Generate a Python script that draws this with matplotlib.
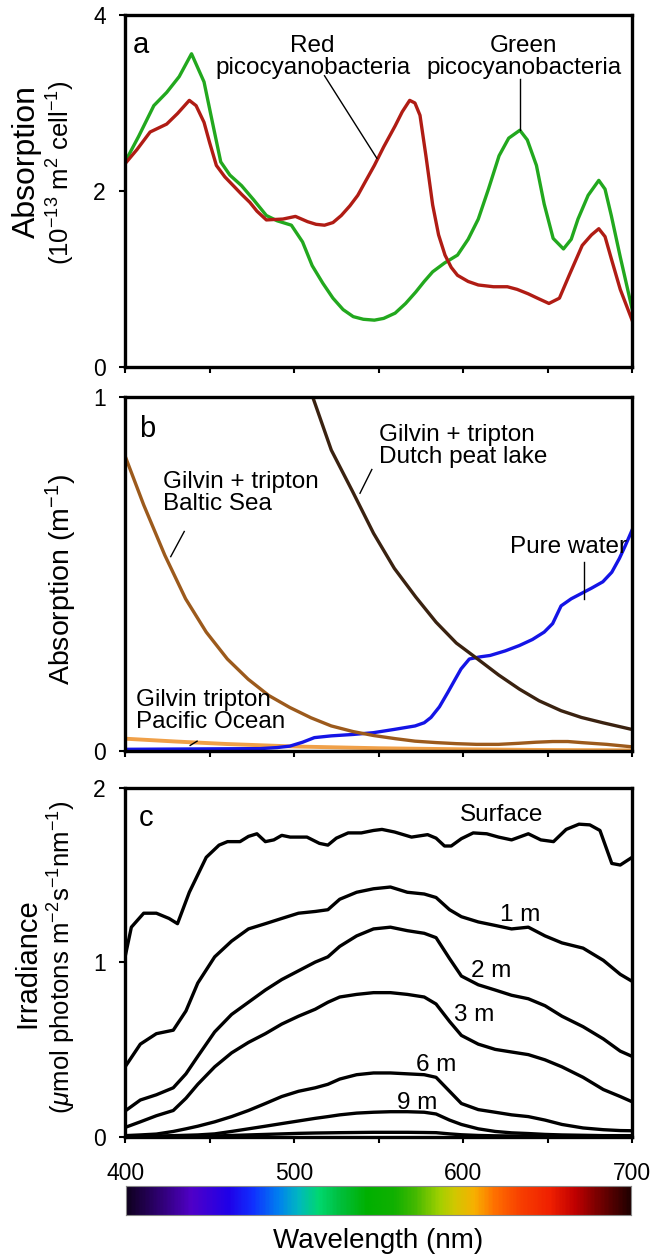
import numpy as np
import matplotlib
matplotlib.use('agg')
from matplotlib import pyplot as plt
from matplotlib.colors import LinearSegmentedColormap

plt.rcParams['font.family'] = ['Liberation Sans', 'DejaVu Sans']
plt.rcParams['mathtext.fontset'] = 'custom'
plt.rcParams['mathtext.rm'] = 'Liberation Sans'
plt.rcParams['mathtext.it'] = 'Liberation Sans:italic'

# panel a: absorption spectra of picocyanobacteria
green_wl = [400, 408, 417, 424.6, 432, 439.3, 446.7, 452, 456.6, 462, 468.9, 476, 483.6,
            490, 498.4, 505, 510.7, 517, 523, 529, 535, 541, 547.5, 553, 559.8, 566, 572,
            577, 582, 589, 596.7, 603, 609, 615, 621.3, 627, 633.6, 638, 643.4, 648, 653.3,
            659.4, 664, 668, 674, 680.3, 684, 687.7, 693, 700]
green_abs = [2.33, 2.62, 2.97, 3.12, 3.30, 3.56, 3.24, 2.75, 2.33, 2.18, 2.06, 1.90, 1.72,
             1.66, 1.61, 1.42, 1.15, 0.95, 0.78, 0.65, 0.57, 0.54, 0.53, 0.55, 0.61, 0.72, 0.85,
             0.97, 1.08, 1.18, 1.27, 1.45, 1.68, 2.02, 2.40, 2.60, 2.69, 2.58, 2.29, 1.85, 1.46,
             1.34, 1.45, 1.68, 1.95, 2.12, 2.02, 1.72, 1.25, 0.66]
red_wl = [400, 407, 414.8, 424.6, 431, 438, 442, 446.7, 450, 454, 459, 464, 469, 473.8,
          478, 483.6, 493.4, 500.8, 508, 513, 518, 523, 527.9, 533, 537.7, 542, 547.5, 553,
          559.8, 564, 568.4, 571.5, 574.5, 578, 582, 585.5, 589.3, 593, 596.7, 603, 609,
          618, 626.2, 632, 638.5, 644, 650.8, 657, 663, 670.5, 676, 680.3, 684, 687.7, 693, 700]
red_abs = [2.31, 2.47, 2.67, 2.76, 2.88, 3.03, 2.97, 2.78, 2.55, 2.29, 2.16, 2.06, 1.96, 1.87,
           1.77, 1.67, 1.68, 1.71, 1.65, 1.62, 1.61, 1.64, 1.72, 1.83, 1.95, 2.10, 2.29, 2.50,
           2.74, 2.90, 3.03, 3.00, 2.86, 2.40, 1.84, 1.50, 1.27, 1.13, 1.04, 0.97, 0.93,
           0.91, 0.91, 0.88, 0.83, 0.78, 0.72, 0.78, 1.05, 1.38, 1.50, 1.57, 1.48, 1.23, 0.88, 0.53]

# panel b: absorption by water constituents
peat_wl = [511, 522, 534.6, 547, 559.3, 572, 584, 596, 608.6, 621, 633.3, 645, 658, 670, 682.7, 700]
peat_abs = [1.0, 0.85, 0.733, 0.615, 0.516, 0.435, 0.364, 0.305, 0.26, 0.215, 0.175, 0.142,
            0.114, 0.095, 0.08, 0.061]
baltic_wl = [400, 411, 423.5, 435.8, 448, 460.5, 472.8, 485, 497.5, 510, 522, 535, 547,
             560, 571.6, 584, 596, 608, 621, 633, 643, 653, 662, 670, 685, 700]
baltic_abs = [0.833, 0.695, 0.553, 0.43, 0.336, 0.26, 0.203, 0.157, 0.123, 0.094, 0.071,
              0.055, 0.044, 0.035, 0.028, 0.024, 0.021, 0.019, 0.019, 0.022, 0.025, 0.027,
              0.027, 0.024, 0.019, 0.012]
pacific_wl = [400, 430, 460, 500, 550, 600, 650, 700]
pacific_abs = [0.035, 0.027, 0.02, 0.013, 0.008, 0.005, 0.003, 0.002]
water_wl = [400, 440, 480, 490, 497.5, 505, 512, 522, 535, 547, 559, 571.6, 577, 581, 586,
            591, 595, 598.8, 603.7, 610, 616, 625, 633.3, 641, 648, 653, 658, 664, 670,
            676, 682.7, 688, 692.5, 696, 700]
water_abs = [0.005, 0.006, 0.007, 0.01, 0.014, 0.025, 0.038, 0.043, 0.047, 0.052, 0.061,
             0.071, 0.08, 0.095, 0.125, 0.166, 0.2, 0.232, 0.26, 0.266, 0.27, 0.283, 0.298,
             0.315, 0.336, 0.36, 0.41, 0.43, 0.445, 0.46, 0.478, 0.505, 0.544, 0.58, 0.624]

# panel c: irradiance spectra at depth
irr_wl = [400, 403.7, 411, 418.5, 426, 431, 438, 448, 455.6, 460.6, 468, 473, 478, 483, 488,
          492.7, 497.7, 507.6, 515, 520, 525, 532, 539.8, 547, 552, 559.5, 569.5, 579, 584,
          589, 593, 599, 606, 614, 621, 628.7, 638.6, 646, 653.5, 661, 668.6, 675, 681,
          688, 693, 700]
surface = [1.03, 1.20, 1.28, 1.28, 1.25, 1.22, 1.40, 1.60, 1.67, 1.69, 1.69, 1.72, 1.735,
           1.69, 1.70, 1.726, 1.716, 1.716, 1.68, 1.67, 1.71, 1.74, 1.74, 1.754, 1.76, 1.745,
           1.716, 1.73, 1.71, 1.665, 1.665, 1.707, 1.74, 1.735, 1.716, 1.70, 1.735, 1.70,
           1.69, 1.76, 1.79, 1.786, 1.754, 1.565, 1.556, 1.60]
depth_wl = [400, 409, 418.5, 428.5, 436, 443, 453, 463, 473, 483, 492.7, 502.6, 512.5, 520,
            527, 537, 547, 557, 567, 577, 584, 592, 599, 609, 619, 628.7, 638.6, 648.5,
            658.5, 671, 683, 693, 700]
irr_1m = [0.40, 0.53, 0.59, 0.61, 0.72, 0.88, 1.03, 1.12, 1.19, 1.22, 1.25, 1.28, 1.29,
          1.30, 1.36, 1.40, 1.42, 1.43, 1.40, 1.39, 1.37, 1.30, 1.26, 1.23, 1.21, 1.19,
          1.20, 1.15, 1.11, 1.08, 1.01, 0.93, 0.89]
irr_2m = [0.147, 0.21, 0.24, 0.28, 0.36, 0.46, 0.60, 0.70, 0.77, 0.84, 0.90, 0.95, 1.00,
          1.03, 1.09, 1.15, 1.19, 1.20, 1.18, 1.165, 1.14, 1.02, 0.92, 0.87, 0.84, 0.81,
          0.79, 0.75, 0.69, 0.63, 0.56, 0.49, 0.46]
irr_3m = [0.053, 0.085, 0.12, 0.15, 0.22, 0.30, 0.40, 0.48, 0.54, 0.59, 0.645, 0.69, 0.73,
          0.77, 0.80, 0.815, 0.825, 0.825, 0.815, 0.80, 0.76, 0.66, 0.58, 0.53, 0.50, 0.485,
          0.47, 0.44, 0.40, 0.34, 0.27, 0.23, 0.20]
irr_6m = [0.006, 0.01, 0.015, 0.03, 0.045, 0.06, 0.085, 0.115, 0.15, 0.19, 0.23, 0.26,
          0.28, 0.30, 0.33, 0.355, 0.365, 0.365, 0.36, 0.355, 0.34, 0.26, 0.19, 0.155, 0.14,
          0.125, 0.115, 0.095, 0.07, 0.05, 0.04, 0.035, 0.034]
irr_9m = [0.0, 0.002, 0.004, 0.006, 0.008, 0.01, 0.016, 0.03, 0.045, 0.06, 0.075, 0.09, 0.105,
          0.115, 0.125, 0.135, 0.14, 0.143, 0.143, 0.14, 0.13, 0.095, 0.07, 0.045, 0.03, 0.022,
          0.018, 0.013, 0.01, 0.008, 0.006, 0.006, 0.006]
irr_12m = [0.0, 0.0, 0.0, 0.0, 0.001, 0.002, 0.004, 0.007, 0.01, 0.013, 0.016, 0.019, 0.021,
           0.022, 0.023, 0.024, 0.025, 0.025, 0.025, 0.024, 0.023, 0.016, 0.011, 0.007, 0.005,
           0.004, 0.003, 0.002, 0.002, 0.001, 0.001, 0.001, 0.001]
depth_labels = ['1 m', '2 m', '3 m', '6 m', '9 m']

# visible spectrum strip under the x axis
spectrum_stops = [0.0, 0.087, 0.127, 0.2, 0.25, 0.3, 0.34, 0.38, 0.42, 0.476, 0.53, 0.57,
                  0.62, 0.65, 0.69, 0.73, 0.78, 0.84, 0.89, 0.93, 1.0]
spectrum_colors = ['#100020', '#3a0090', '#5000c8', '#2000e8', '#1030ff', '#0080f0',
                   '#00b8c0', '#00d870', '#00c040', '#00b000', '#10b000', '#40b800',
                   '#a0d000', '#d0c800', '#f8b000', '#ff7000', '#f84000', '#f02000',
                   '#c00000', '#800000', '#200000']

fig = plt.figure(figsize=(6.55, 12.56), dpi=100)
ax_a = fig.add_axes([0.191, 0.708, 0.774, 0.280])
ax_b = fig.add_axes([0.191, 0.402, 0.774, 0.282])
ax_c = fig.add_axes([0.191, 0.095, 0.774, 0.278])
ax_bar = fig.add_axes([0.192, 0.0326, 0.771, 0.0231])

line_kw = dict(lw=2.4, solid_joinstyle='round')
ax_a.plot(green_wl, green_abs, color='#22a81e', **line_kw)
ax_a.plot(red_wl, red_abs, color='#b01c14', **line_kw)
ax_a.set_ylim(0, 4)
ax_a.set_yticks([0, 2, 4])

ax_b.plot(pacific_wl, pacific_abs, color='#f0a048', lw=2.8)
ax_b.plot(water_wl, water_abs, color='#1414e6', **line_kw)
ax_b.plot(baltic_wl, baltic_abs, color='#9c5a1c', **line_kw)
ax_b.plot(peat_wl, peat_abs, color='#3a2210', **line_kw)
ax_b.set_ylim(0, 1)
ax_b.set_yticks([0, 1])

ax_c.plot(irr_wl, surface, color='k', **line_kw)
for series in [irr_1m, irr_2m, irr_3m, irr_6m, irr_9m, irr_12m]:
    ax_c.plot(depth_wl, series, color='k', **line_kw)
ax_c.set_ylim(0, 2)
ax_c.set_yticks([0, 1, 2])

# panel letters: (x, baseline y) in axes fractions
letter_pos = [(0.016, 0.892), (0.028, 0.887), (0.026, 0.891)]
for ax, letter, (lx, ly) in zip([ax_a, ax_b, ax_c], 'abc', letter_pos):
    ax.set_xlim(400, 700)
    ax.set_xticks(np.arange(400, 701, 50))
    ax.tick_params(direction='out', length=4, width=1.5, labelsize=16.5)
    ax.tick_params(axis='y', pad=10)
    ax.tick_params(axis='x', pad=14)
    for sp in ax.spines.values():
        sp.set_linewidth(2.4)
    ax.text(lx, ly, letter, transform=ax.transAxes, fontsize=21, va='baseline', ha='left')
ax_a.set_xticklabels([])
ax_b.set_xticklabels([])
ax_c.set_xticklabels(['400', '', '500', '', '600', '', '700'])

# y labels, one text per line
rot = dict(rotation=90, ha='center', va='center')
ax_a.text(-0.193, 0.585, 'Absorption', transform=ax_a.transAxes, fontsize=23, **rot)
ax_a.text(-0.126, 0.551, '(10$^{-13}$ m$^{2}$ cell$^{-1}$)', transform=ax_a.transAxes,
          fontsize=18.5, **rot)
ax_b.text(-0.126, 0.483, 'Absorption (m$^{-1}$)', transform=ax_b.transAxes, fontsize=20.5, **rot)
ax_c.text(-0.193, 0.497, 'Irradiance', transform=ax_c.transAxes, fontsize=21, **rot)
ax_c.text(-0.124, 0.514, '($\\mu$mol photons m$^{-2}$s$^{-1}$nm$^{-1}$)',
          transform=ax_c.transAxes, fontsize=18.5, **rot)

ann = dict(fontsize=17.5, ha='center', va='center', linespacing=1.0)
ax_a.text(511, 3.52, 'Red\npicocyanobacteria', **ann)
ax_a.text(636, 3.52, 'Green\npicocyanobacteria', **ann)
ax_a.plot([518, 549], [3.31, 2.37], color='k', lw=1)
ax_a.plot([633.7, 633.7], [3.27, 2.69], color='k', lw=1)

annb = dict(fontsize=17.5, ha='left', va='center', linespacing=1.0)
ax_b.text(550, 0.861, 'Gilvin + tripton\nDutch peat lake', **annb)
ax_b.text(422.5, 0.73, 'Gilvin + tripton\nBaltic Sea', **annb)
ax_b.text(406.5, 0.114, 'Gilvin tripton\nPacific Ocean', **annb)
ax_b.text(628, 0.576, 'Pure water', **annb)
ax_b.plot([546, 539], [0.795, 0.728], color='k', lw=1)
ax_b.plot([435, 427], [0.62, 0.549], color='k', lw=1)
ax_b.plot([442.6, 438.5], [0.028, 0.016], color='k', lw=1)
ax_b.plot([671.6, 671.6], [0.535, 0.43], color='k', lw=1)

annc = dict(fontsize=17.5, ha='center', va='center')
ax_c.text(622.6, 1.84, 'Surface', **annc)
for lab, lx, ly in zip(depth_labels, [633.7, 616.4, 606.5, 584, 573],
                       [1.27, 0.95, 0.695, 0.41, 0.195]):
    ax_c.text(lx, ly, lab, **annc)

# spectrum colour bar
cmap = LinearSegmentedColormap.from_list('spec', list(zip(spectrum_stops, spectrum_colors)))
ax_bar.imshow(np.linspace(0, 1, 400)[None, :], aspect='auto', cmap=cmap,
              extent=[400, 700, 0, 1])
ax_bar.set_xticks([])
ax_bar.set_yticks([])
for sp in ax_bar.spines.values():
    sp.set_linewidth(0.8)
    sp.set_color('#888888')
fig.text(0.5 * (0.192 + 0.963), 1 - 1241 / 1256, 'Wavelength (nm)', ha='center', va='center',
         fontsize=20)

fig.savefig('out.png', dpi=100)
